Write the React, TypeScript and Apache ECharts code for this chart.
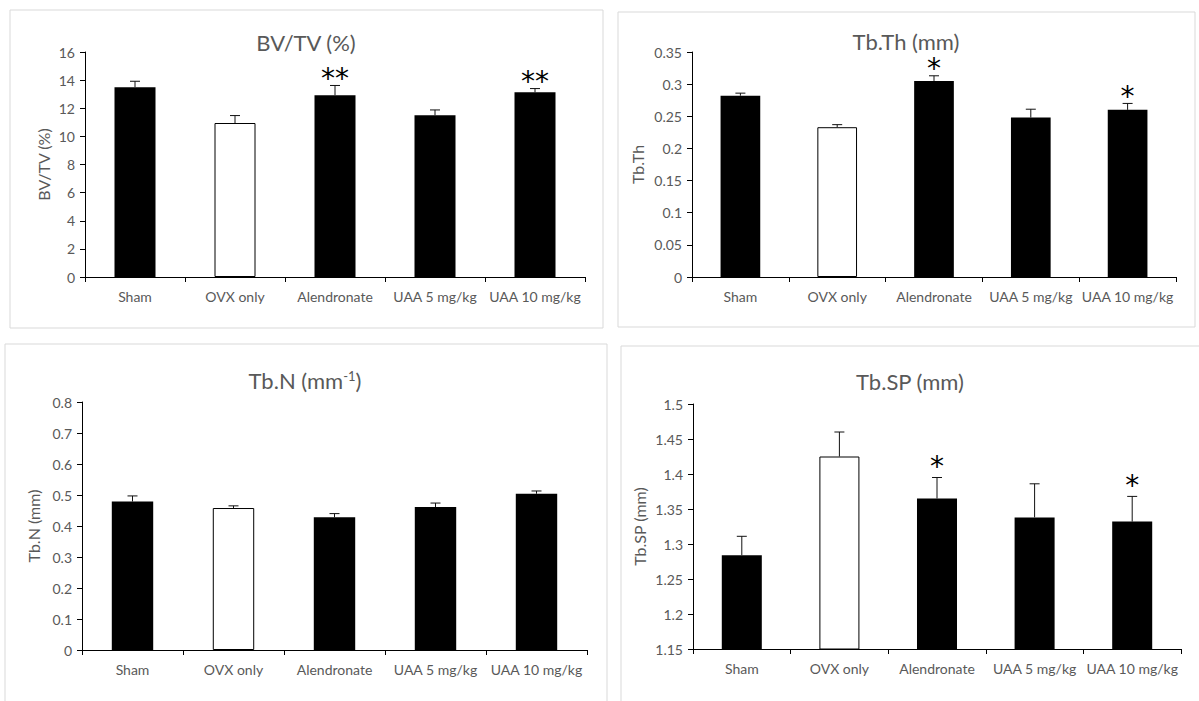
import { useEffect, useRef } from 'react';
import * as echarts from 'echarts';

const categories = ['Sham', 'OVX only', 'Alendronate', 'UAA 5 mg/kg', 'UAA 10 mg/kg'];

// BV/TV (%)
const bvtvMean = [13.5, 10.95, 12.93, 11.5, 13.14];
const bvtvErr = [0.42, 0.53, 0.69, 0.38, 0.26];
const bvtvStars = ['', '', '**', '', '**'];
const bvtvAxis = [0, 16, 2];

// Tb.Th (mm)
const tbthMean = [0.282, 0.233, 0.305, 0.248, 0.26];
const tbthErr = [0.004, 0.004, 0.008, 0.013, 0.01];
const tbthStars = ['', '', '*', '', '*'];
const tbthAxis = [0, 0.35, 0.05];

// Tb.N (mm-1)
const tbnMean = [0.479, 0.458, 0.428, 0.461, 0.504];
const tbnErr = [0.018, 0.007, 0.012, 0.013, 0.009];
const tbnStars = ['', '', '', '', ''];
const tbnAxis = [0, 0.8, 0.1];

// Tb.SP (mm)
const tbspMean = [1.284, 1.425, 1.365, 1.338, 1.332];
const tbspErr = [0.027, 0.035, 0.03, 0.048, 0.036];
const tbspStars = ['', '', '*', '', '*'];
const tbspAxis = [1.15, 1.5, 0.05];

const FONT = 'Lato, "Open Sans", sans-serif';
const GREY = '#595959';

const panels = [
  {
    mean: bvtvMean, err: bvtvErr, stars: bvtvStars, axis: bvtvAxis,
    yName: 'BV/TV (%)', nameGap: 34, starOffset: 14,
    grid: { left: 85, top: 52, width: 500, height: 225 },
    box: { x: 10, y: 10, width: 593, height: 318 },
    title: { x: 306, y: 42, text: '{a|BV/TV (%)}' },
  },
  {
    mean: tbthMean, err: tbthErr, stars: tbthStars, axis: tbthAxis,
    yName: 'Tb.Th', nameGap: 47, starOffset: 14,
    grid: { left: 692, top: 52, width: 484, height: 225 },
    box: { x: 618, y: 12, width: 577, height: 315 },
    title: { x: 906, y: 41, text: '{a|Tb.Th (mm)}' },
  },
  {
    mean: tbnMean, err: tbnErr, stars: tbnStars, axis: tbnAxis,
    yName: 'Tb.N (mm)', nameGap: 41, starOffset: 15,
    grid: { left: 82, top: 402, width: 505, height: 248 },
    box: { x: 5, y: 344, width: 602, height: 380 },
    title: { x: 305, y: 380, text: '{a|Tb.N (mm}{s|-1}{a|)}' },
  },
  {
    mean: tbspMean, err: tbspErr, stars: tbspStars, axis: tbspAxis,
    yName: 'Tb.SP (mm)', nameGap: 46, starOffset: 18,
    grid: { left: 693, top: 404, width: 488, height: 245 },
    box: { x: 621, y: 346, width: 600, height: 380 },
    title: { x: 910, y: 381, text: '{a|Tb.SP (mm)}' },
  },
];

export default function App() {
  const ref = useRef<HTMLDivElement>(null);
  useEffect(() => {
    if (!ref.current) return;
    const chart = echarts.init(ref.current, undefined, { renderer: 'svg' });

    const grid: any[] = [];
    const xAxis: any[] = [];
    const yAxis: any[] = [];
    const series: any[] = [];
    const graphic: any[] = [];

    panels.forEach((p, k) => {
      grid.push({ ...p.grid, containLabel: false });
      xAxis.push({
        type: 'category',
        gridIndex: k,
        data: categories,
        axisLine: { lineStyle: { color: '#000', width: 1 } },
        axisTick: { show: true, length: 5, lineStyle: { color: '#000' } },
        axisLabel: { color: GREY, fontFamily: FONT, fontSize: 14, margin: 12, interval: 0 },
        splitLine: { show: false },
      });
      yAxis.push({
        type: 'value',
        gridIndex: k,
        min: p.axis[0],
        max: p.axis[1],
        interval: p.axis[2],
        name: p.yName,
        nameLocation: 'middle',
        nameGap: p.nameGap,
        nameTextStyle: { color: GREY, fontFamily: FONT, fontSize: 16 },
        axisLine: { show: true, lineStyle: { color: '#000', width: 1 } },
        axisTick: { show: true, length: 5, lineStyle: { color: '#000' } },
        axisLabel: { color: GREY, fontFamily: FONT, fontSize: 14, margin: 10 },
        splitLine: { show: false },
      });
      series.push({
        type: 'bar',
        xAxisIndex: k,
        yAxisIndex: k,
        barWidth: '41%',
        data: categories.map((c, i) => ({
          value: p.mean[i],
          itemStyle: c === 'OVX only'
            ? { color: '#fff', borderColor: '#000', borderWidth: 1 }
            : { color: '#000' },
        })),
      });
      series.push({
        type: 'custom',
        xAxisIndex: k,
        yAxisIndex: k,
        z: 5,
        clip: false,
        encode: { x: 0, y: 1 },
        data: categories.map((c, i) => [i, p.mean[i], p.err[i]]),
        renderItem: (params: any, api: any) => {
          const i = api.value(0);
          const v = api.value(1);
          const e = api.value(2);
          const p0 = api.coord([i, v]);
          const p1 = api.coord([i, v + e]);
          const children: any[] = [
            { type: 'line', shape: { x1: p0[0], y1: p0[1], x2: p1[0], y2: p1[1] }, style: { stroke: '#111', lineWidth: 1 } },
            { type: 'line', shape: { x1: p1[0] - 5, y1: p1[1], x2: p1[0] + 5, y2: p1[1] }, style: { stroke: '#111', lineWidth: 1 } },
          ];
          const s = p.stars[params.dataIndex];
          if (s) {
            children.push({
              type: 'text',
              x: p1[0],
              y: p1[1] - p.starOffset + 7,
              style: {
                text: s,
                fill: '#000',
                font: '28px "DejaVu Sans", sans-serif',
                lineHeight: 12,
                align: 'center',
                verticalAlign: 'middle',
              },
            });
          }
          return { type: 'group', children };
        },
      });
      graphic.push({
        type: 'rect',
        shape: { ...p.box },
        style: { fill: 'none', stroke: '#d9d9d9', lineWidth: 1 },
        silent: true,
        z: -10,
      });
      graphic.push({
        type: 'text',
        x: p.title.x,
        y: p.title.y,
        style: {
          text: p.title.text,
          align: 'center',
          verticalAlign: 'middle',
          rich: {
            a: { fontFamily: FONT, fontSize: 22, lineHeight: 20, fill: GREY, color: GREY },
            s: { fontFamily: FONT, fontSize: 13, fill: GREY, color: GREY, verticalAlign: 'top', padding: [0, 0, 8, 0] },
          },
        },
      });
    });

    chart.setOption({
      animation: false,
      backgroundColor: '#fff',
      grid,
      xAxis,
      yAxis,
      series,
      graphic,
    });
    return () => chart.dispose();
  }, []);

  return (
    <div
      ref={ref}
      style={{ position: 'absolute', left: 0, top: 0, width: 1199, height: 701, background: '#fff' }}
    />
  );
}
